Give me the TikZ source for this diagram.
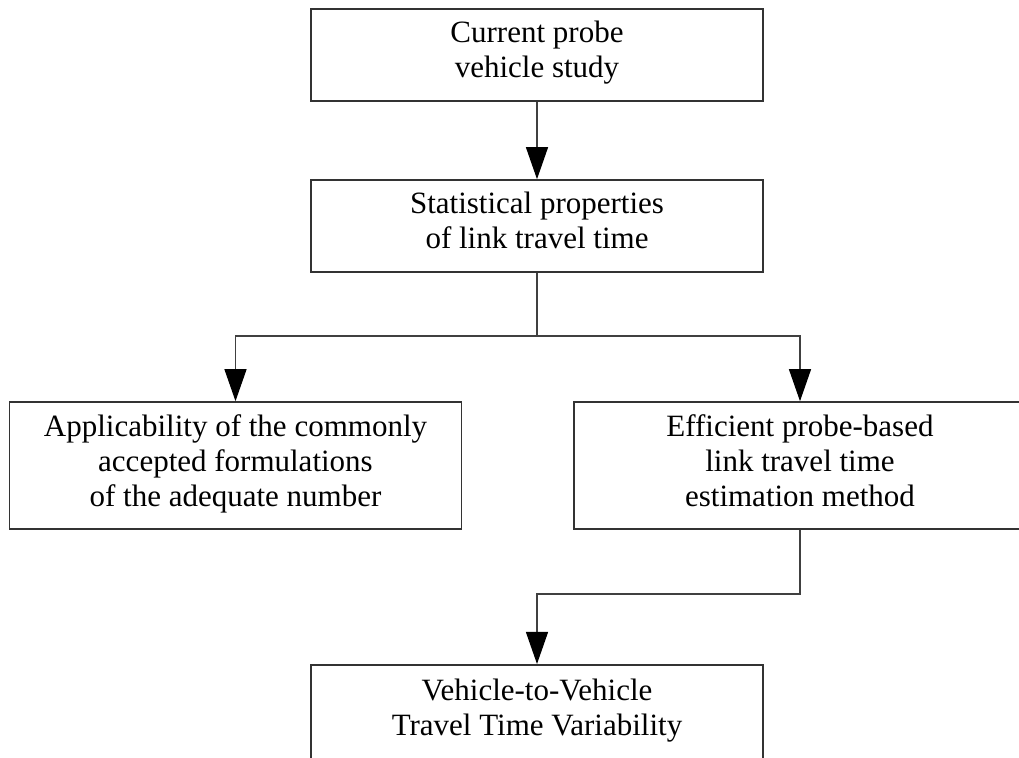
\documentclass[tikz,border=0pt]{standalone}
\usepackage{fontspec}
\setmainfont{Liberation Serif}
\usetikzlibrary{arrows.meta,calc}

\begin{document}
\begin{tikzpicture}[
		x=0.5pt,
		y=-0.5pt,
		line join=miter,
		boxbase/.style={draw=black!80,line width=0.8pt,minimum width=226pt,
			inner sep=0pt,align=center,font=\fontsize{15.5}{17.5}\selectfont,
			execute at end node={\strut}},
		stepbox/.style={boxbase,minimum height=46pt,execute at begin node={\rule{0pt}{17pt}}},
		tallbox/.style={boxbase,minimum height=63.5pt,execute at begin node={\rule{0pt}{13pt}}},
		link/.style={draw=black!75,line width=0.6pt},
		flow/.style={link,-{Triangle[length=16pt,width=11pt,black]}}
	]
	
	% Canvas
	\clip (0,0) rectangle (1019,758);
	
	% Main column
	\node[stepbox] (study) at (537,55) {Current probe\\vehicle study};
	\node[stepbox] (stats) at (537,226) {Statistical properties\\of link travel time};
	
	% Second row
	\node[tallbox] (applic) at (235.5,465.5)
	{Applicability of the commonly\\accepted formulations\\of the adequate number};
	\node[tallbox] (estim) at (800,465.5)
	{Efficient probe-based\\link travel time\\estimation method};
	
	% Last box (runs off the bottom edge)
	\node[tallbox,minimum height=47.5pt,anchor=north] (variab) at (537,664)
	{Vehicle-to-Vehicle\\Travel Time Variability};
	
	% Branch points
	\coordinate (fork) at (537,336);
	\coordinate (merge) at (800,594);
	
	% Connectors
	\draw[flow] (study) -- (stats);
	\draw[link] (stats) -- (fork);
	\draw[flow] (fork) -| (applic);
	\draw[flow] (fork) -| (estim);
	\draw[flow] (estim) -- (merge) -| (variab);
	
\end{tikzpicture}
\end{document}
